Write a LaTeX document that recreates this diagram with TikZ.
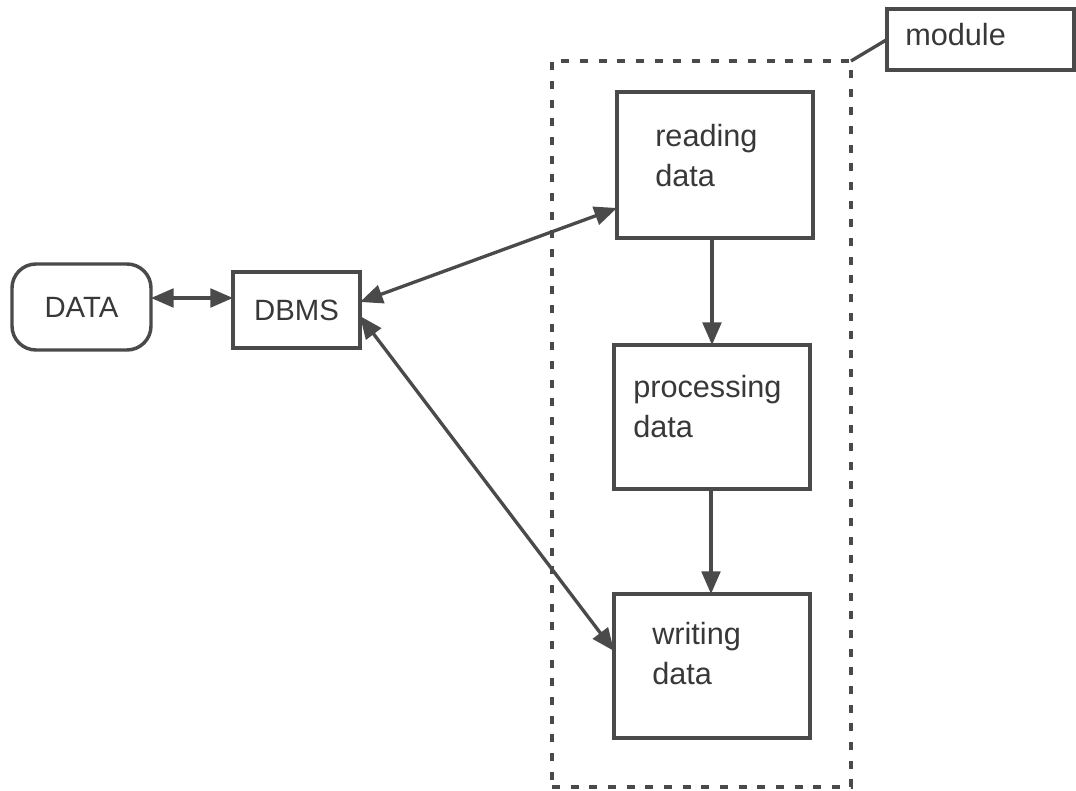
\documentclass[tikz,border=0pt]{standalone}
\usepackage{fontspec}
\setmainfont{Liberation Sans}
\usetikzlibrary{arrows.meta,calc}
\definecolor{ink}{HTML}{4A4A4A}
\definecolor{txt}{HTML}{383838}
\begin{document}
\begin{tikzpicture}[x=0.75pt,y=-0.75pt,
  box/.style={draw=ink,line width=2.6pt,inner sep=0pt,outer sep=0pt,anchor=north west},
  rbox/.style={box,rounded corners=18pt},
  modbox/.style={draw=ink,line width=2.8pt,inner sep=0pt,outer sep=0pt,anchor=north west,dash pattern=on 6pt off 8pt},
  lbl/.style={text=txt,font=\fontsize{22}{28}\selectfont},
  body/.style={text=txt,inner sep=0pt,anchor=base west,align=left,font=\fontsize{23}{30}\selectfont},
  arr/.style={draw=ink,fill=ink,line width=2.5pt,{Triangle[length=17pt,width=14pt]}-{Triangle[length=17pt,width=14pt]}},
  flow/.style={draw=ink,line width=2.5pt,-{Triangle[length=17pt,width=14pt]}},
  link/.style={draw=ink,line width=2.5pt}]
\useasboundingbox (0,0) rectangle (1076,791);
% boxes
\node[rbox,lbl,minimum width=139*0.75pt,minimum height=86*0.75pt] (data) at (12,264) {DATA};
\node[box,lbl,minimum width=127*0.75pt,minimum height=76*0.75pt] (dbms) at (233,272) {DBMS};
\node[modbox,minimum width=299*0.75pt,minimum height=726*0.75pt] (mod) at (552,61) {};
\node[box,minimum width=187*0.75pt,minimum height=61*0.75pt] (modlbl) at (887,9) {};
\node[box,minimum width=196*0.75pt,minimum height=146*0.75pt] (read) at (617,92) {};
\node[box,minimum width=196*0.75pt,minimum height=144*0.75pt] (proc) at (614,345) {};
\node[box,minimum width=196*0.75pt,minimum height=144*0.75pt] (writ) at (614,594) {};
% texts
\node[body] (tmod) at (905,46) {module};
\node[body] (tread) at (655,187) {reading\\data};
\node[body] (tproc) at (633,438) {processing\\data};
\node[body] (twrit) at (652,685) {writing\\data};
% connectors
\draw[link] (mod.north east) -- (modlbl.west);
\draw[arr] (data.east |- 0,298) -- (dbms.west |- 0,298);
\draw[arr] (dbms.east |- 0,302) -- (read.west |- 0,208);
\draw[arr] (dbms.east |- 0,316) -- (writ.west |- 0,651);
\draw[flow] (read.south -| 712,0) -- (proc.north -| 712,0);
\draw[flow] (proc.south -| 711,0) -- (writ.north -| 711,0);
\end{tikzpicture}
\end{document}
